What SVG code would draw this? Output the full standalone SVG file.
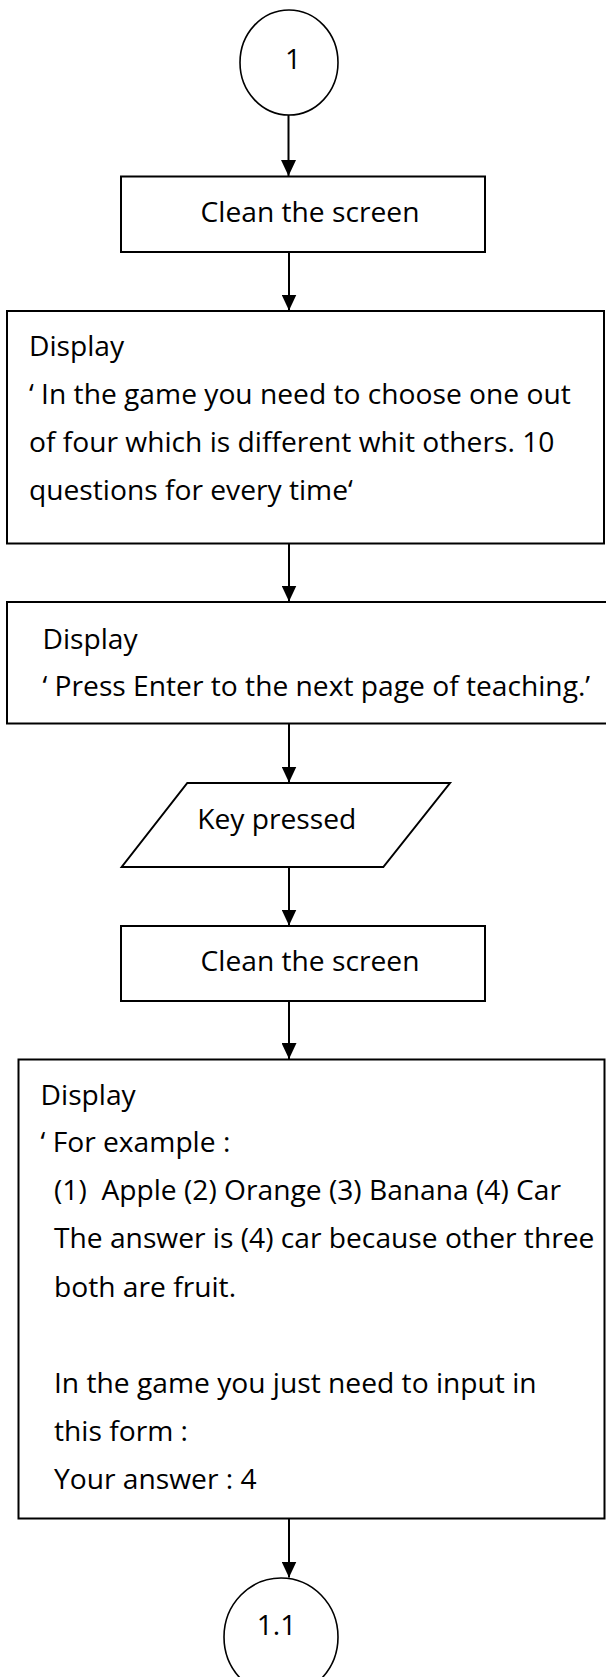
<svg xmlns="http://www.w3.org/2000/svg" width="606" height="1677" viewBox="0 0 606 1677">
<style>
.shape{fill:#ffffff;stroke:#000000;stroke-width:2}
.term{fill:#ffffff;stroke:#000000;stroke-width:1.6}
.t{font-family:"Open Sans","Liberation Sans",sans-serif;font-size:28.2px;fill:#000000}
.c{text-anchor:middle}
.conn{stroke:#000000;stroke-width:2;fill:none;marker-end:url(#arrow)}
</style>
<defs>
<marker id="arrow" viewBox="0 0 16 15" refX="16" refY="7.5" markerWidth="16" markerHeight="15" markerUnits="userSpaceOnUse" orient="auto">
<path d="M0,0 L16,7.5 L0,15 z" fill="#000000"/>
</marker>
</defs>
<rect x="0" y="0" width="606" height="1677" fill="#ffffff"/>
<g id="connectors">
<line class="conn" x1="288.5" y1="115" x2="288.5" y2="176"/>
<line class="conn" x1="289" y1="252" x2="289" y2="310.5"/>
<line class="conn" x1="289" y1="543.5" x2="289" y2="601.5"/>
<line class="conn" x1="289" y1="723.5" x2="289" y2="782.5"/>
<line class="conn" x1="289" y1="867" x2="289" y2="925.5"/>
<line class="conn" x1="289" y1="1001" x2="289" y2="1059"/>
<line class="conn" x1="289" y1="1518.5" x2="289" y2="1577.5"/>
</g>
<g id="start">
<ellipse class="term" cx="289" cy="62.5" rx="49" ry="52.5"/>
<text class="t c" x="293" y="69">1</text>
</g>
<g id="clean1">
<rect class="shape" x="121" y="176.5" width="364" height="75.5"/>
<text class="t c" x="310" y="222">Clean the screen</text>
</g>
<g id="display1">
<rect class="shape" x="7" y="311" width="597" height="232.5"/>
<text class="t" x="29" y="356">Display</text>
<text class="t" x="29" y="404">‘ In the game you need to choose one out</text>
<text class="t" x="29" y="452">of four which is different whit others. 10</text>
<text class="t" x="29" y="499.5">questions for every time‘</text>
</g>
<g id="display2">
<rect class="shape" x="7" y="602" width="603" height="121.5"/>
<text class="t" x="42.5" y="648.5">Display</text>
<text class="t" x="42.5" y="696">‘ Press Enter to the next page of teaching.’</text>
</g>
<g id="keypressed">
<polygon class="shape" points="187.3,783 450,783 383.3,867 121.7,867"/>
<text class="t c" x="276.7" y="828.5">Key pressed</text>
</g>
<g id="clean2">
<rect class="shape" x="121" y="926" width="364" height="75"/>
<text class="t c" x="310" y="971">Clean the screen</text>
</g>
<g id="display3">
<rect class="shape" x="18.5" y="1059.5" width="586" height="459"/>
<text class="t" x="40.6" y="1105">Display</text>
<text class="t" x="40.6" y="1152">‘ For example :</text>
<text class="t" x="54" y="1200" xml:space="preserve">(1)  Apple (2) Orange (3) Banana (4) Car</text>
<text class="t" x="54" y="1248">The answer is (4) car because other three</text>
<text class="t" x="54" y="1296.5">both are fruit.</text>
<text class="t" x="54" y="1393">In the game you just need to input in</text>
<text class="t" x="54" y="1441">this form :</text>
<text class="t" x="54" y="1489">Your answer : 4</text>
</g>
<g id="end">
<ellipse class="term" cx="281" cy="1637" rx="57" ry="59"/>
<text class="t c" x="276.5" y="1635">1.1</text>
</g>
</svg>
